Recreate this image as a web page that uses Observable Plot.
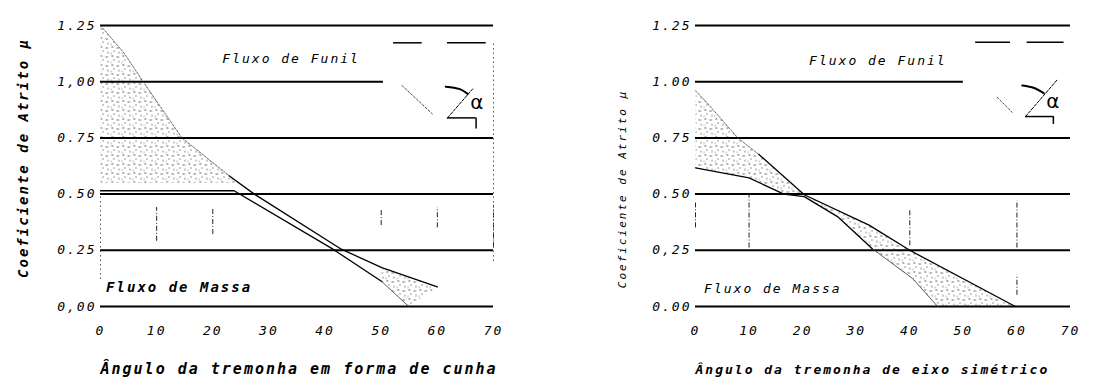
<!DOCTYPE html>
<html><head><meta charset="utf-8">
<script src="https://cdn.jsdelivr.net/npm/d3@7"></script>
<script src="https://cdn.jsdelivr.net/npm/@observablehq/plot@0.6"></script>
<style>
html,body{margin:0;padding:0;background:#fff;}
#wrap{position:relative;width:1105px;height:391px;overflow:hidden;background:#fff;}
#left{position:absolute;left:0;top:0;}
#right{position:absolute;left:560px;top:0;}
</style></head><body>
<svg width="0" height="0" style="position:absolute">
  <defs>
    <pattern id="stip" width="11" height="9" patternUnits="userSpaceOnUse">
      <rect x="1" y="1" width="1.6" height="1" fill="#333"/>
      <rect x="6" y="2" width="2.5" height="0.9" fill="#555"/>
      <rect x="3" y="5" width="1" height="1" fill="#333"/>
      <rect x="8" y="6.5" width="1" height="1.2" fill="#444"/>
      <rect x="0" y="7.5" width="1.2" height="0.8" fill="#666"/>
    </pattern>
  </defs>
</svg>
<div id="wrap"><div id="left"></div><div id="right"></div></div>
<script>
// ---- shared ticks ----
const xTicks = [0, 10, 20, 30, 40, 50, 60, 70];
const yTicks = [0, 0.25, 0.5, 0.75, 1, 1.25];
const yTickLabelsLeft = ["0,00", "0.25", "0.50", "0.75", "1,00", "1.25"];
const yTickLabelsRight = ["0.00", "0,25", "0.50", "0.75", "1.00", "1.25"];
const gridFull = [0, 0.25, 0.5, 0.75, 1.25];
const gridOneEndLeft = 50.4;
const gridOneEndRight = 50;

// ---- left panel (wedge hopper) ----
const leftUpperX = [0, 4.3, 7.6, 14.5, 22.9, 27.4, 42.9, 50.1, 60];
const leftUpperY = [1.25, 1.124, 1.0, 0.75, 0.582, 0.5, 0.255, 0.173, 0.087];
const leftLowerX = [0, 23.8, 41.4, 50.1, 54.9];
const leftLowerY = [0.515, 0.515, 0.255, 0.111, 0.0];
const leftStippleBottom = 0.55;
const leftDashX = [10, 20, 50, 60, 70];
const leftDashY1 = [0.29, 0.32, 0.36, 0.35, 0.26];
const leftDashY2 = [0.44, 0.44, 0.43, 0.44, 0.45];

// ---- right panel (conical hopper) ----
const rightUpperX = [0, 2, 7.9, 11.8, 20.3, 32.4, 40, 59.7];
const rightUpperY = [0.96, 0.91, 0.75, 0.677, 0.497, 0.362, 0.25, 0.0];
const rightLowerX = [0, 10, 16.5, 20.3, 26.5, 33, 40.5, 45.2];
const rightLowerY = [0.617, 0.572, 0.5, 0.489, 0.4, 0.257, 0.125, 0.0];
const rightDashX = [0, 10, 40, 60, 60];
const rightDashY1 = [0.35, 0.26, 0.27, 0.26, 0.05];
const rightDashY2 = [0.46, 0.5, 0.43, 0.47, 0.14];

// ---- texts ----
const yTitle = "Coeficiente de Atrito μ";
const funilText = "Fluxo de Funil";
const massaText = "Fluxo de Massa";
const xTitleLeft = "Ângulo da tremonha em forma de cunha";
const xTitleRight = "Ângulo da tremonha de eixo simétrico";
const alphaText = "α";

// ---- hopper sketch icons (data coordinates) ----
const leftIcon = {
  legA: [52.2, 57.3], legB: [61.8, 68.7], legY: 1.173,
  diagX: [53.7, 59.1], diagY: [0.983, 0.857],
  horX: [61.8, 66.9], horY: 0.839, vertY: [0.839, 0.79],
  wallX: [61.8, 66.3], wallY: [0.839, 0.968],
  arcX: [61.5, 63.9, 65.4], arcY: [0.978, 0.968, 0.946],
  alphaX: 67.2, alphaY: 0.905,
  funilX: 21.7, funilY: 1.10, massaX: 1.0, massaY: 0.085
};
const rightIcon = {
  legA: [52.3, 58.8], legB: [61.9, 68.8], legY: 1.176,
  diagX: [56.3, 59.1], diagY: [0.931, 0.864],
  horX: [61.6, 66.8], horY: 0.845, vertY: [0.845, 0.81],
  wallX: [61.6, 67.5], wallY: [0.845, 1.008],
  arcX: [61.0, 63.2, 65.0], arcY: [0.983, 0.972, 0.949],
  alphaX: 66.9, alphaY: 0.91,
  funilX: 21.2, funilY: 1.094, massaX: 1.6, massaY: 0.077
};

const pts = (xs, ys) => xs.map((x, i) => ({x, y: ys[i]}));

function panel(cfg) {
  const upper = pts(cfg.upperX, cfg.upperY);
  const lower = pts(cfg.lowerX, cfg.lowerY);
  const ic = cfg.icon;
  const dashes = cfg.dashX.map((x, i) => ({x, y1: cfg.dashY1[i], y2: cfg.dashY2[i]}));
  return Plot.plot({
    width: cfg.width, height: 391,
    marginLeft: cfg.ml, marginRight: cfg.mr, marginTop: 25, marginBottom: 85,
    x: {domain: [0, 70]},
    y: {domain: [0, 1.25]},
    style: {fontFamily: "'DejaVu Sans Mono', monospace", fontStyle: "italic", letterSpacing: "2px", color: "#000", background: "#fff", overflow: "visible"},
    marks: [
      ...cfg.stipples.map(poly => Plot.line(poly, {x: "x", y: "y", fill: "url(#stip)", stroke: "none"})),
      Plot.ruleY(gridFull, {y: d => d, x1: 0, x2: 70, strokeWidth: 2, stroke: "#000"}),
      Plot.ruleY([1], {y: d => d, x1: 0, x2: cfg.oneEnd, strokeWidth: 2, stroke: "#000"}),
      Plot.ruleX(dashes, {x: "x", y1: "y1", y2: "y2", stroke: "#222", strokeWidth: 1, strokeDasharray: "5,2,1,2"}),
      ...cfg.extraRules.map(r => Plot.ruleX([r.x], {x: d => d, y1: r.y1, y2: r.y2, stroke: "#555", strokeWidth: 1, strokeDasharray: "1.5,3"})),
      // faint upper part
      Plot.line(upper.filter(d => d.x <= cfg.faintUpTo), {x: "x", y: "y", stroke: "#444", strokeWidth: 0.8, strokeDasharray: "2,1.5"}),
      Plot.line(upper.filter(d => d.x >= cfg.faintUpTo), {x: "x", y: "y", stroke: "#000", strokeWidth: 1.3}),
      Plot.line(lower.filter(d => d.x <= cfg.lowerFaintFrom), {x: "x", y: "y", stroke: "#000", strokeWidth: 1.3}),
      Plot.line(lower.filter(d => d.x >= cfg.lowerFaintFrom), {x: "x", y: "y", stroke: "#333", strokeWidth: 0.8}),
      // icon
      Plot.ruleY([ic.legY], {y: d => d, x1: ic.legA[0], x2: ic.legA[1], strokeWidth: 1.5}),
      Plot.ruleY([ic.legY], {y: d => d, x1: ic.legB[0], x2: ic.legB[1], strokeWidth: 1.5}),
      Plot.line(pts(ic.diagX, ic.diagY), {x: "x", y: "y", strokeWidth: 1, strokeDasharray: "2,2", stroke: "#444"}),
      Plot.ruleY([ic.horY], {y: d => d, x1: ic.horX[0], x2: ic.horX[1], strokeWidth: 1.5}),
      Plot.ruleX([ic.horX[1]], {x: d => d, y1: ic.vertY[0], y2: ic.vertY[1], strokeWidth: 1.5}),
      Plot.line(pts(ic.wallX, ic.wallY), {x: "x", y: "y", strokeWidth: 1, strokeDasharray: "3,1.5"}),
      Plot.line(pts(ic.arcX, ic.arcY), {x: "x", y: "y", strokeWidth: 2, curve: "natural"}),
      Plot.text([alphaText], {x: ic.alphaX, y: ic.alphaY, text: d => d, fontSize: 20, fontStyle: "normal", fontFamily: "'DejaVu Sans'", textAnchor: "middle"}),
      // region labels
      Plot.text([funilText], {x: ic.funilX, y: ic.funilY, text: d => d, fontSize: 13, textAnchor: "start"}),
      Plot.text([massaText], {x: ic.massaX, y: ic.massaY, text: d => d, fontSize: cfg.massaSize, fontWeight: cfg.massaWeight, textAnchor: "start"}),
      // axis titles
      Plot.text([cfg.xTitle], {frameAnchor: "bottom-left", text: d => d, dy: 67, fontSize: cfg.xTitleSize, fontWeight: "bold", textAnchor: "start"}),
      Plot.text([yTitle], {frameAnchor: "left", text: d => d, rotate: -90, dx: cfg.yTitleDx, dy: cfg.yTitleDy, fontSize: cfg.yTitleSize, fontWeight: cfg.yTitleWeight, textAnchor: "middle"}),
      // axes
      Plot.axisX(xTicks, {tickSize: 0, tickPadding: 19, fontSize: 13, label: null}),
      Plot.axisY(yTicks, {tickSize: 0, tickPadding: 4, fontSize: 13, label: null,
        tickFormat: d => cfg.yLabels[yTicks.indexOf(d)]})
    ]
  });
}

const leftStip1 = [
  ...pts(leftUpperX, leftUpperY).filter(d => d.x <= 22.9),
  {x: 24.6, y: leftStippleBottom},
  {x: 0, y: leftStippleBottom}
];
const leftStip2 = [
  ...pts(leftUpperX, leftUpperY).filter(d => d.x >= 50),
  ...pts(leftLowerX, leftLowerY).filter(d => d.x >= 50).reverse()
];
const rightStip = [
  ...pts(rightUpperX, rightUpperY),
  ...pts(rightLowerX, rightLowerY).reverse()
];

document.getElementById("left").appendChild(panel({
  width: 530, ml: 100, mr: 37,
  upperX: leftUpperX, upperY: leftUpperY, lowerX: leftLowerX, lowerY: leftLowerY,
  stipples: [leftStip1, leftStip2],
  oneEnd: gridOneEndLeft,
  dashX: leftDashX, dashY1: leftDashY1, dashY2: leftDashY2,
  extraRules: [{x: 0, y1: 0.12, y2: 0.5}, {x: 70, y1: 0.2, y2: 1.17}],
  faintUpTo: 22.9, lowerFaintFrom: 50.1,
  icon: leftIcon, yLabels: yTickLabelsLeft,
  xTitle: xTitleLeft, xTitleSize: 15,
  yTitleDx: -77, yTitleDy: -8, yTitleSize: 14, yTitleWeight: "bold",
  massaSize: 14, massaWeight: "bold"
}));

document.getElementById("right").appendChild(panel({
  width: 545, ml: 135, mr: 35,
  upperX: rightUpperX, upperY: rightUpperY, lowerX: rightLowerX, lowerY: rightLowerY,
  stipples: [rightStip],
  oneEnd: gridOneEndRight,
  dashX: rightDashX, dashY1: rightDashY1, dashY2: rightDashY2,
  extraRules: [],
  faintUpTo: 11.8, lowerFaintFrom: 33,
  icon: rightIcon, yLabels: yTickLabelsRight,
  xTitle: xTitleRight, xTitleSize: 13,
  yTitleDx: -73, yTitleDy: 23, yTitleSize: 11, yTitleWeight: "normal",
  massaSize: 13, massaWeight: "normal"
}));
</script>
</body></html>
